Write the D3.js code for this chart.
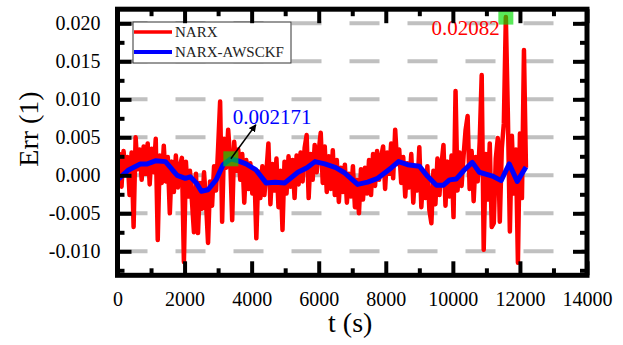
<!DOCTYPE html>
<html>
<head>
<meta charset="utf-8">
<script src="https://cdn.jsdelivr.net/npm/d3@7"></script>
<style>
  body { margin: 0; background: #fff; }
  svg { display: block; }
  text { font-family: "Liberation Serif", "Times New Roman", serif; }
</style>
</head>
<body>
<div id="chart"></div>
<script>
// NARX error, sampled every 60 s from t = 0
const narxStart = 0;
const narxStep = 60;
const narxErr = [
  -0.0005, 0.0028, -0.0015, 0.0032, 0.0005, 0.0024, -0.0026, 0.0030, -0.0068, 0.0050, 0.0008, 0.0034,
  -0.0006, 0.0038, 0.0002, 0.0042, -0.0012, 0.0035, 0.0004, 0.0048, -0.0085, 0.0026, -0.0010, 0.0039,
  -0.0008, 0.0024, -0.0050, 0.0018, -0.0022, 0.0026, -0.0016, 0.0012, 0.0023, -0.0114,
  0.0018, -0.0028, 0.0006, -0.0034, -0.0075, 0.0002, -0.0076, -0.0010, -0.0044, 0.0004, -0.0036, -0.0089, -0.0008, -0.0040,
  0.0012, -0.0020, 0.0036, 0.0097, -0.0061, 0.0048, 0.0010, 0.0060, 0.0022, -0.0059, 0.0044, 0.0006, 0.0034,
  -0.0006, 0.0028, -0.0036, 0.0020, -0.0018, 0.0016, -0.0024, 0.0008, -0.0083, 0.0005,
  -0.0030, 0.0012, -0.0026, 0.0004, 0.0042, -0.0038, 0.0015, -0.0020, 0.0022, -0.0042,
  0.0006, -0.0072, 0.0018, -0.0024, 0.0025, -0.0015, 0.0020, -0.0030, 0.0026, -0.0012,
  0.0030, -0.0008, 0.0036, 0.0053, -0.0030, 0.0028, -0.0006, 0.0040, 0.0004, 0.0032, 0.0056, -0.0010, 0.0038, -0.0022, 0.0025,
  -0.0018, 0.0033, -0.0026, 0.0020, -0.0035, 0.0010, -0.0022,
  0.0014, -0.0036, 0.0002, -0.0028, 0.0012, -0.0042, -0.0006, -0.0050, 0.0008, -0.0032, 0.0010, -0.0024,
  0.0020, -0.0026, 0.0028, -0.0014, 0.0032, -0.0006, 0.0024, 0.0038, -0.0018, 0.0030, 0.0002, 0.0042, -0.0004, 0.0060, 0.0015,
  0.0034, -0.0010, 0.0024, -0.0028, 0.0016, -0.0016, 0.0028, -0.0036, 0.0008, -0.0020, 0.0037, -0.0042, 0.0004, -0.0030, 0.0012,
  -0.0046, -0.0063, 0.0006, -0.0038, 0.0022, -0.0026, 0.0014, 0.0040, -0.0040, 0.0018, -0.0028, 0.0026,
  -0.0055, 0.0111, -0.0020, 0.0030, -0.0014, 0.0026, 0.0060,
  0.0078, -0.0018, 0.0032, -0.0034, 0.0024, -0.0008, 0.0044, 0.0132, -0.0098,
  0.0028, -0.0032, 0.0042, -0.0068, -0.0063, 0.0022, 0.0049, -0.0061, 0.0036, 0.0068,
  0.02082, 0.0080, -0.0074, 0.0052, -0.0024, 0.0034, -0.0115, 0.0055, -0.0030, 0.0165, 0.0010
];

// NARX-AWSCKF error
const awsTime = [0, 330, 680, 890, 1130, 1430, 1640, 1780, 2020, 2170, 2350, 2500, 2700, 2940, 3150, 3380,
  3600, 3830, 4130, 4430, 4700, 4990, 5380, 5650, 5890, 6180, 6510, 6780, 7160, 7460, 7760, 8170,
  8380, 8650, 9000, 9240, 9510, 9720, 9900, 10100, 10340, 10580, 10790, 11180, 11440, 11680, 11920, 12180];
const awsErr = [-0.0006, 0.0007, 0.0015, 0.0015, 0.0019, 0.0018, 0.0007, 0.0000, -0.0004, -0.0002, -0.0010, -0.0021,
  -0.0019, -0.0006, 0.0014, 0.002171, 0.0019, 0.0015, 0.0007, -0.0010, -0.0009, -0.0010, 0.0004, 0.0010,
  0.0018, 0.0015, 0.0010, 0.0003, -0.0012, -0.0009, -0.0004, 0.0010, 0.0018, 0.0014, 0.0012, -0.0001,
  -0.0013, -0.0013, -0.0006, -0.0005, 0.0007, 0.0017, 0.0004, -0.0001, -0.0007, 0.0015, -0.0008, 0.0011];

const seriesNames = ['NARX', 'NARX-AWSCKF'];
const seriesColors = ['#ff0000', '#0000ff'];
const xTicks = [0, 2000, 4000, 6000, 8000, 10000, 12000, 14000];
const xMinorTicks = [1000, 3000, 5000, 7000, 9000, 11000, 13000];
const yTicks = [-0.010, -0.005, 0.000, 0.005, 0.010, 0.015, 0.020];
const yMinorTicks = [-0.0125, -0.0075, -0.0025, 0.0025, 0.0075, 0.0125, 0.0175];
const awsMarkIndex = 15;

const width = 623, height = 345;
const margin = { top: 9.2, right: 36, bottom: 69.7, left: 117.5 };

const narx = narxErr.map((v, i) => ({ t: narxStart + i * narxStep, v: v }));
const aws = awsTime.map((t, i) => ({ t: t, v: awsErr[i] }));

const x = d3.scaleLinear().domain([0, 14000]).range([margin.left, width - margin.right]);
const y = d3.scaleLinear().domain([-0.01316, 0.02186]).range([height - margin.bottom, margin.top]);

const svg = d3.select('#chart').append('svg')
  .attr('width', width)
  .attr('height', height);

svg.append('rect').attr('width', width).attr('height', height).attr('fill', '#fff');

svg.append('clipPath').attr('id', 'plot-clip')
  .append('rect')
  .attr('x', x.range()[0]).attr('y', y.range()[1])
  .attr('width', x.range()[1] - x.range()[0])
  .attr('height', y.range()[0] - y.range()[1]);

// dashed horizontal grid
svg.append('g').selectAll('line')
  .data(yTicks)
  .join('line')
  .attr('x1', x(0)).attr('x2', x(14000))
  .attr('y1', d => y(d)).attr('y2', d => y(d))
  .attr('stroke', '#c0c0c0')
  .attr('stroke-width', 4)
  .attr('stroke-dasharray', '30,28');

const line = d3.line().x(d => x(d.t)).y(d => y(d.v));

const plot = svg.append('g').attr('clip-path', 'url(#plot-clip)');
plot.append('path')
  .datum(narx)
  .attr('fill', 'none')
  .attr('stroke', seriesColors[0])
  .attr('stroke-width', 4.5)
  .attr('stroke-linejoin', 'round')
  .attr('d', line);
plot.append('path')
  .datum(aws)
  .attr('fill', 'none')
  .attr('stroke', seriesColors[1])
  .attr('stroke-width', 5)
  .attr('stroke-linejoin', 'round')
  .attr('d', line);

// markers
const peak = narx[d3.maxIndex(narx, d => d.v)];
const awsMark = aws[awsMarkIndex];
svg.append('g').selectAll('rect')
  .data([peak, awsMark])
  .join('rect')
  .attr('x', d => x(d.t) - 7.5)
  .attr('y', d => y(d.v) - 7.5)
  .attr('width', 15).attr('height', 15)
  .attr('fill', '#00dd00')
  .attr('fill-opacity', 0.65);

svg.append('text')
  .attr('x', x(peak.t) - 6)
  .attr('y', y(peak.v) + 18)
  .attr('text-anchor', 'end')
  .attr('font-size', 21)
  .attr('fill', seriesColors[0])
  .text(peak.v.toString());

svg.append('defs').append('marker')
  .attr('id', 'arrow')
  .attr('viewBox', '0 0 10 10')
  .attr('refX', 9).attr('refY', 5)
  .attr('markerWidth', 5).attr('markerHeight', 5)
  .attr('orient', 'auto')
  .append('path').attr('d', 'M0,0L10,5L0,10Z').attr('fill', '#000');

svg.append('line')
  .attr('x1', x(awsMark.t)).attr('y1', y(awsMark.v))
  .attr('x2', x(awsMark.t) + 25).attr('y2', y(awsMark.v) - 34)
  .attr('stroke', '#000')
  .attr('stroke-width', 1.5)
  .attr('marker-end', 'url(#arrow)');

svg.append('text')
  .attr('x', x(awsMark.t) + 2)
  .attr('y', y(awsMark.v) - 35)
  .attr('font-size', 21)
  .attr('fill', seriesColors[1])
  .text(awsMark.v.toString());

// legend
const legend = svg.append('g').attr('transform', 'translate(133,22)');
legend.append('rect')
  .attr('width', 158).attr('height', 41)
  .attr('fill', '#fff')
  .attr('stroke', '#333')
  .attr('stroke-width', 1);
seriesNames.forEach((name, i) => {
  legend.append('line')
    .attr('x1', 1).attr('x2', 39)
    .attr('y1', 10 + i * 20).attr('y2', 10 + i * 20)
    .attr('stroke', seriesColors[i])
    .attr('stroke-width', i === 0 ? 3.5 : 4);
  legend.append('text')
    .attr('x', 42).attr('y', 15.3 + i * 20)
    .attr('font-size', 15)
    .attr('fill', '#222')
    .text(name);
});

// axes, ticks pointing inward
function styleAxis(g) {
  g.select('.domain').remove();
  g.selectAll('.tick line').attr('stroke', '#000').attr('stroke-width', 4);
  g.selectAll('.tick text')
    .attr('fill', '#000')
    .attr('font-family', '"Liberation Serif", "Times New Roman", serif')
    .attr('font-size', 20);
}
const fmt = d => d.toFixed(3);
const bottomY = y.range()[0], topY = y.range()[1];
const leftX = x.range()[0], rightX = x.range()[1];

svg.append('g').attr('transform', `translate(0,${bottomY})`)
  .call(d3.axisBottom(x).tickValues(xTicks).tickSize(-14).tickPadding(17).tickFormat(d3.format('d')))
  .call(styleAxis);
svg.append('g').attr('transform', `translate(0,${bottomY})`)
  .call(d3.axisBottom(x).tickValues(xMinorTicks).tickSize(-7).tickFormat(''))
  .call(styleAxis);
svg.append('g').attr('transform', `translate(0,${topY})`)
  .call(d3.axisTop(x).tickValues(xTicks).tickSize(-14).tickFormat(''))
  .call(styleAxis);
svg.append('g').attr('transform', `translate(0,${topY})`)
  .call(d3.axisTop(x).tickValues(xMinorTicks).tickSize(-7).tickFormat(''))
  .call(styleAxis);
svg.append('g').attr('transform', `translate(${leftX},0)`)
  .call(d3.axisLeft(y).tickValues(yTicks).tickSize(-14).tickPadding(17).tickFormat(fmt))
  .call(styleAxis);
svg.append('g').attr('transform', `translate(${leftX},0)`)
  .call(d3.axisLeft(y).tickValues(yMinorTicks).tickSize(-7).tickFormat(''))
  .call(styleAxis);
svg.append('g').attr('transform', `translate(${rightX},0)`)
  .call(d3.axisRight(y).tickValues(yTicks).tickSize(-14).tickFormat(''))
  .call(styleAxis);
svg.append('g').attr('transform', `translate(${rightX},0)`)
  .call(d3.axisRight(y).tickValues(yMinorTicks).tickSize(-7).tickFormat(''))
  .call(styleAxis);

// frame
svg.append('rect')
  .attr('x', leftX).attr('y', topY)
  .attr('width', rightX - leftX).attr('height', bottomY - topY)
  .attr('fill', 'none')
  .attr('stroke', '#000')
  .attr('stroke-width', 5);

// axis titles
svg.append('text')
  .attr('x', (leftX + rightX) / 2 - 2)
  .attr('y', 332)
  .attr('text-anchor', 'middle')
  .attr('font-size', 28)
  .text('t (s)');
svg.append('text')
  .attr('transform', 'translate(38,129) rotate(-90)')
  .attr('text-anchor', 'middle')
  .attr('font-size', 28)
  .text('Err (1)');
</script>
</body>
</html>
